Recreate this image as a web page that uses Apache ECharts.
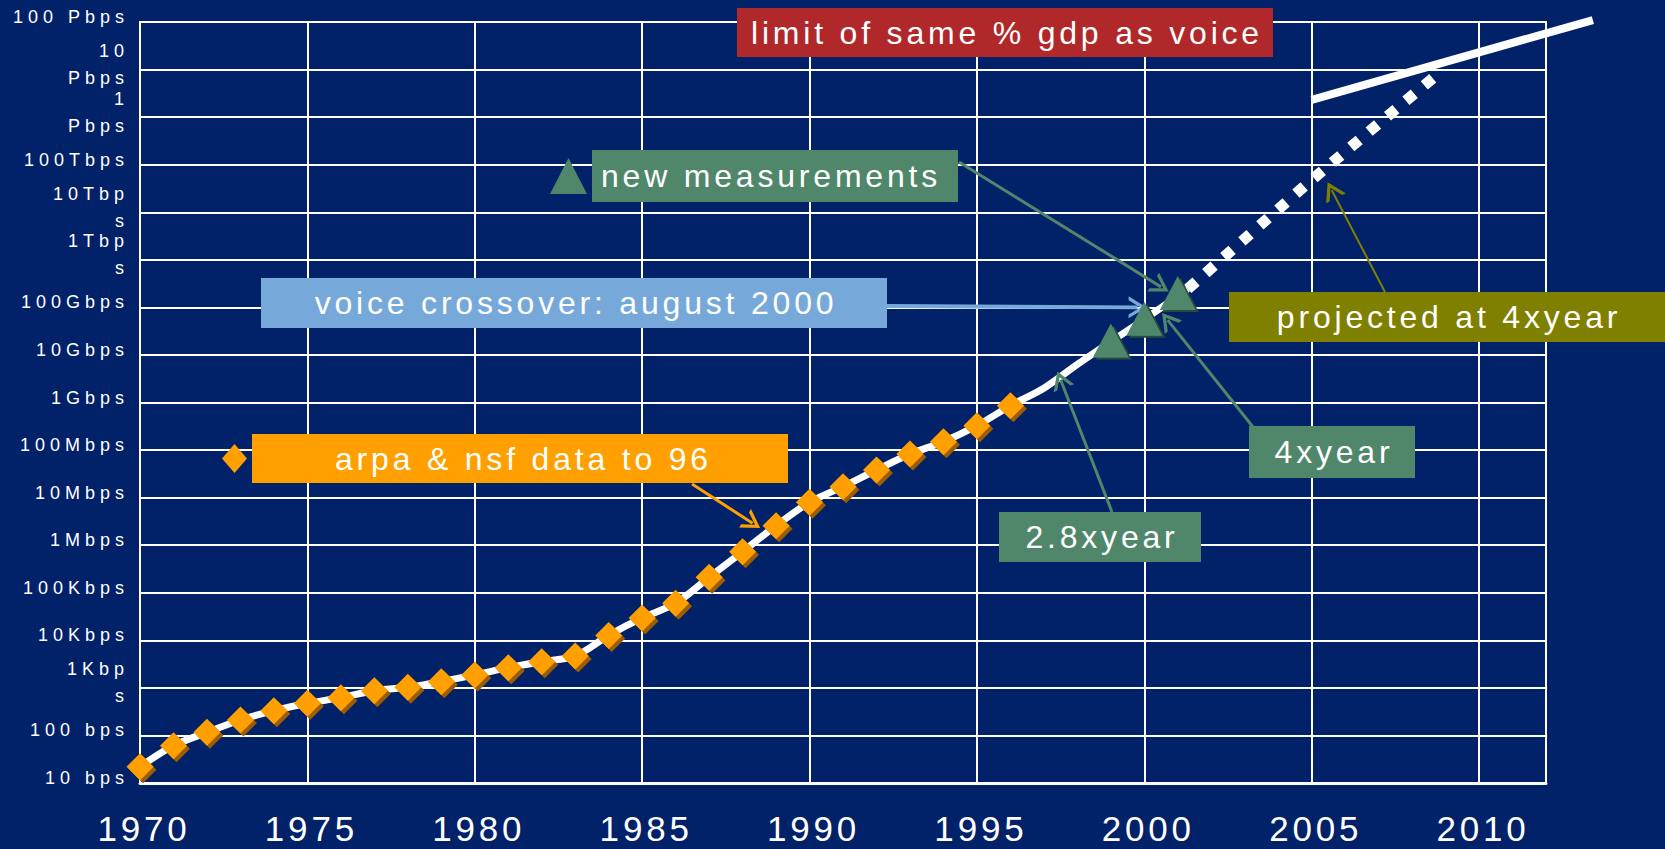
<!DOCTYPE html>
<html>
<head>
<meta charset="utf-8">
<title>Internet traffic growth</title>
<script src="https://cdn.jsdelivr.net/npm/echarts@6/dist/echarts.min.js"></script>
<style>
  html, body { margin: 0; padding: 0; background: #012169; }
  #chart { width: 1665px; height: 849px; }
  /* the slide text is letter-spaced */
  #chart text { letter-spacing: 3.8px; }
  #chart text[style*="18px"] { letter-spacing: 5px; }
</style>
</head>
<body>
<div id="chart"></div>
<script>
// arpa & nsf measurements, one per year
const years = [1970, 1971, 1972, 1973, 1974, 1975, 1976, 1977, 1978, 1979,
  1980, 1981, 1982, 1983, 1984, 1985, 1986, 1987, 1988, 1989,
  1990, 1991, 1992, 1993, 1994, 1995, 1996]
const arpaNsf = [22, 61, 116, 211, 331, 474, 622, 873, 1030, 1350,
  1870, 2660, 3560, 4680, 12700, 29500, 60000, 211000, 730000, 2.57e6,
  7.98e6, 1.7e7, 3.81e7, 8.28e7, 1.5e8, 3.26e8, 8.57e8]

// white trend curve after 1996
const trendYears = [1997, 1998, 1999, 2000, 2001.3]
const trendValues = [2.0e9, 6.3e9, 1.9e10, 5.6e10, 2.45e11]

// new measurements (triangles)
const newYears = [1999, 2000, 2001]
const newValues = [2.0e10, 5.75e10, 2.0e11]

// projected at 4x / year (dotted)
const projYears = [2001.3, 2005, 2008.85]
const projValues = [2.45e11, 4.8e13, 9.0e15]

// limit of same % gdp as voice
const limitYears = [2005, 2013.4]
const limitValues = [2.3e15, 1.1e17]

const yLabels = ['10 bps', '100 bps', '1Kbp\ns', '10Kbps', '100Kbps', '1Mbps', '10Mbps',
  '100Mbps', '1Gbps', '10Gbps', '100Gbps', '1Tbp\ns', '10Tbp\ns', '100Tbps',
  '1\nPbps', '10\nPbps', '100 Pbps']

const FONT = '"Liberation Sans", Arial, sans-serif'
const GREEN = '#50876B'
const pairs = (xs, ys) => xs.map((x, i) => [x, ys[i]])

// callout boxes (pixel layout)
const boxes = [
  { text: 'limit of same % gdp as voice', x: 737, y: 8, w: 536, h: 49, fill: '#B0282A' },
  { text: 'voice crossover: august 2000', x: 261, y: 278, w: 626, h: 50, fill: '#76A9DA' },
  { text: '2.8xyear', x: 999, y: 512, w: 202, h: 50, fill: GREEN },
  { text: '4xyear', x: 1249, y: 426, w: 166, h: 52, fill: GREEN },
  { text: 'projected at 4xyear', x: 1229, y: 292, w: 436, h: 50, fill: '#808000' }
]

// arrows: start at a box edge (px), end on the chart (data coords)
const arrows = [
  { from: [692, 484], to: [1988.3, 2.9e6], color: '#FFA000', width: 3 },
  { from: [959, 162], to: [2000.5, 2.7e11], color: GREEN, width: 3 },
  { from: [887, 306], to: [1999.8, 1.0e11], color: '#76A9DA', width: 4 },
  { from: [1112, 512], to: [1997.5, 3.0e9], color: GREEN, width: 3 },
  { from: [1253, 427], to: [2000.7, 5.4e10], color: GREEN, width: 3 },
  { from: [1385, 292], to: [2005.6, 2.9e13], color: '#808000', width: 2 }
]

const chevron = 'path://M10,0 L20,16 L16.5,16 L10,5.5 L3.5,16 L0,16 Z'

const boxGraphics = []
boxes.forEach(b => {
  boxGraphics.push({
    type: 'rect', z: 100,
    shape: { x: b.x, y: b.y, width: b.w, height: b.h },
    style: { fill: b.fill }
  })
  boxGraphics.push({
    type: 'text', z: 101,
    x: b.x + b.w / 2 + 2, y: b.y + b.h / 2,
    style: {
      text: b.text, fill: '#fff', fontSize: 32, fontFamily: FONT,
      align: 'center', verticalAlign: 'middle',
      textAlign: 'center', textVerticalAlign: 'middle'
    }
  })
})

const chart = echarts.init(document.getElementById('chart'), null, { renderer: 'svg' })
chart.setOption({
  backgroundColor: '#012169',
  animation: false,
  textStyle: { fontFamily: FONT },
  grid: {
    left: 140, top: 22, right: 119, bottom: 66,
    show: true, borderColor: '#fff', borderWidth: 2,
    containLabel: false, outerBoundsMode: 'none'
  },
  legend: [
    {
      data: ['arpa & nsf data to 96'],
      left: 222, top: 434, padding: 0,
      itemWidth: 25, itemHeight: 29, icon: 'diamond',
      selectedMode: false,
      textStyle: {
        color: '#fff', fontSize: 32, fontFamily: FONT,
        backgroundColor: '#FFA000', width: 453, lineHeight: 49, padding: [0, 0, 0, 83]
      }
    },
    {
      data: ['new measurements'],
      left: 550, top: 150, padding: 0,
      itemWidth: 37, itemHeight: 36, icon: 'triangle',
      selectedMode: false,
      textStyle: {
        color: '#fff', fontSize: 32, fontFamily: FONT,
        backgroundColor: GREEN, width: 357, lineHeight: 52, padding: [0, 0, 0, 9]
      }
    }
  ],
  xAxis: {
    type: 'value', min: 1970, max: 2012, interval: 5,
    axisLine: { lineStyle: { color: '#fff', width: 3 } },
    axisTick: { show: false },
    splitLine: { lineStyle: { color: '#fff', width: 2 } },
    axisLabel: {
      color: '#fff', fontSize: 35, fontFamily: FONT, margin: 28, padding: [0, 0, 0, 8],
      formatter: v => (v % 5 === 0 ? String(v) : '')
    }
  },
  yAxis: {
    type: 'log', logBase: 10, min: 10, max: 1e17, interval: 1, splitNumber: 16,
    axisLine: { show: true, lineStyle: { color: '#fff', width: 2 } },
    axisTick: { show: false },
    splitLine: { lineStyle: { color: '#fff', width: 2 } },
    axisLabel: {
      margin: 11, padding: [0, 0, 10, 0], interval: 0,
      hideOverlap: false, showMinLabel: true, showMaxLabel: true,
      formatter: v => {
        const s = yLabels[Math.round(Math.log10(v)) - 1] || ''
        return s.split('\n').map(l => '{t|' + l + '}').join('\n')
      },
      rich: { t: { color: '#fff', fontSize: 18, fontFamily: FONT, lineHeight: 27 } }
    }
  },
  graphic: boxGraphics,
  series: [
    {
      name: 'trend', type: 'line', z: 2,
      data: pairs(years.concat(trendYears), arpaNsf.concat(trendValues)),
      symbol: 'none', smooth: 0.3,
      lineStyle: { color: '#fff', width: 7 },
      markLine: {
        silent: true,
        symbol: ['none', chevron],
        symbolSize: [22, 18],
        label: { show: false },
        data: arrows.map(a => [
          { x: a.from[0], y: a.from[1], lineStyle: { color: a.color, width: a.width, type: 'solid' } },
          { coord: a.to }
        ])
      }
    },
    {
      name: 'projected', type: 'line', z: 2,
      data: pairs(projYears, projValues),
      symbol: 'none',
      lineStyle: { color: '#fff', width: 11, type: [11, 13], cap: 'butt' }
    },
    {
      // custom so the line can run past the right edge of the grid
      name: 'limit', type: 'custom', z: 2, clip: false,
      data: pairs(limitYears, limitValues),
      renderItem: (params, api) => {
        if (params.dataIndex !== 0) return
        const pts = limitYears.map((x, i) => api.coord([x, limitValues[i]]))
        return {
          type: 'polyline',
          shape: { points: pts },
          style: { stroke: '#fff', lineWidth: 8, fill: null }
        }
      }
    },
    {
      name: 'arpa & nsf data to 96', type: 'scatter', z: 4,
      data: pairs(years, arpaNsf),
      symbol: 'diamond', symbolSize: 27,
      itemStyle: { color: '#FFA000', opacity: 1, shadowColor: '#9C5C00', shadowOffsetX: 3, shadowOffsetY: 3, shadowBlur: 0 }
    },
    {
      name: 'new measurements', type: 'scatter', z: 5,
      data: pairs(newYears, newValues),
      symbol: 'triangle', symbolSize: [36, 34],
      itemStyle: { color: GREEN, opacity: 1, shadowColor: '#2B4C3A', shadowOffsetX: 3, shadowOffsetY: 2, shadowBlur: 0 }
    }
  ]
})
</script>
</body>
</html>
